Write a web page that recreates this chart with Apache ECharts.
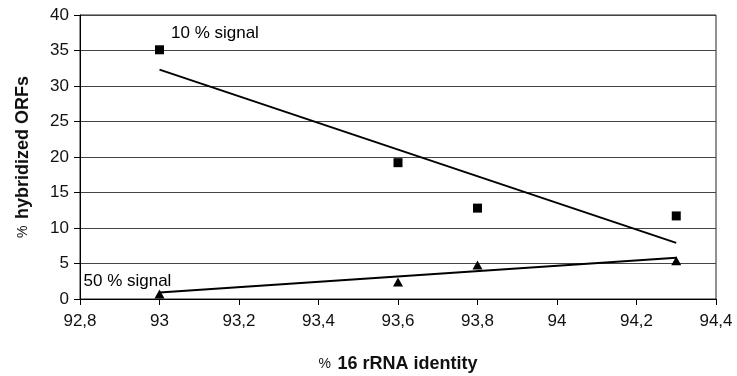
<!DOCTYPE html>
<html><head><meta charset="utf-8">
<script src="https://cdn.jsdelivr.net/npm/echarts@6/dist/echarts.min.js"></script>
<style>html,body{margin:0;padding:0;background:#fff}#c{width:737px;height:376px}</style>
</head><body><div id="c"></div>
<script>
var identity = [93, 93.6, 93.8, 94.3];
var signal10 = [35.1, 19.2, 12.8, 11.7];
var signal50 = [0.7, 2.4, 4.8, 5.4];
var trend10 = [[93, 32.3], [94.3, 7.9]];
var trend50 = [[93, 0.9], [94.3, 5.8]];
var xTicks = [92.8, 93, 93.2, 93.4, 93.6, 93.8, 94, 94.2, 94.4];
var yTicks = [0, 5, 10, 15, 20, 25, 30, 35, 40];
var seriesLabels = ['10 % signal', '50 % signal'];

function pairs(xs, ys){ return xs.map(function(x,i){return [x, ys[i]];}); }
var font = 'Liberation Sans, Arial, sans-serif';
var chart = echarts.init(document.getElementById('c'));
chart.setOption({
  animation:false,
  grid:{left:80, right:21, top:15, bottom:77, containLabel:false, outerBoundsMode:'none', show:true, borderColor:'#222', borderWidth:1, backgroundColor:'transparent'},
  xAxis:{type:'value', min:xTicks[0], max:xTicks[xTicks.length-1], interval:0.2,
    axisLine:{onZero:false, lineStyle:{color:'#000', width:1}},
    axisTick:{show:true, length:6, inside:false, lineStyle:{color:'#000'}},
    splitLine:{show:false},
    axisLabel:{color:'#111', fontSize:17, fontFamily:font, margin:14,
      formatter:function(v){ return (Math.round(v*10)/10).toString().replace('.', ','); }},
    name:'{p|%}  {b|16 rRNA identity}', nameLocation:'middle', nameGap:56,
    nameTextStyle:{rich:{p:{fontSize:14, fontFamily:font, color:'#111'}, b:{fontSize:18, fontWeight:'bold', fontFamily:font, color:'#111'}}}
  },
  yAxis:{type:'value', min:yTicks[0], max:yTicks[yTicks.length-1], interval:5,
    axisLine:{show:true, lineStyle:{color:'#000', width:1}},
    axisTick:{show:true, length:6, lineStyle:{color:'#000'}},
    splitLine:{show:true, lineStyle:{color:'#444', width:1}},
    axisLabel:{color:'#111', fontSize:17, fontFamily:font, margin:11},
    name:'{p|%}  {b|hybridized ORFs}', nameLocation:'middle', nameGap:48, nameRotate:90,
    nameTextStyle:{rich:{p:{fontSize:14, fontFamily:font, color:'#111'}, b:{fontSize:18, fontWeight:'bold', fontFamily:font, color:'#111'}}}
  },
  series:[
    {type:'line', data:trend10, symbol:'none', lineStyle:{color:'#000', width:2}, z:3, silent:true},
    {type:'line', data:trend50, symbol:'none', lineStyle:{color:'#000', width:2}, z:3, silent:true},
    {type:'scatter', name:seriesLabels[0], data:pairs(identity, signal10), symbol:'rect', symbolSize:9,
      itemStyle:{color:'#000', opacity:1}, z:4,
      label:{show:true, formatter:function(p){return p.dataIndex===0?seriesLabels[0]:'';}, position:[16,-20], align:'left', verticalAlign:'top',
        color:'#000', fontSize:17, fontFamily:font}},
    {type:'scatter', name:seriesLabels[1], data:pairs(identity, signal50), symbol:'triangle', symbolSize:[10,9],
      itemStyle:{color:'#000', opacity:1}, z:4,
      label:{show:true, formatter:function(p){return p.dataIndex===0?seriesLabels[1]:'';}, position:[-71,-17], align:'left', verticalAlign:'top',
        color:'#000', fontSize:17, fontFamily:font}}
  ]
});
</script></body></html>
